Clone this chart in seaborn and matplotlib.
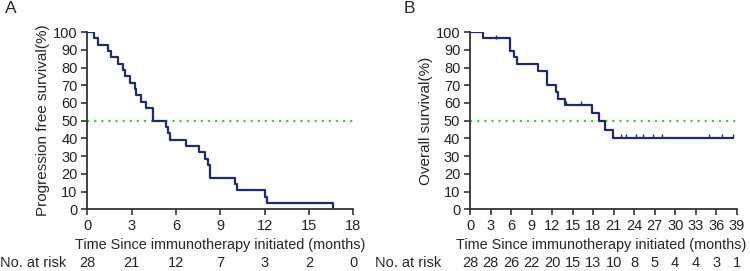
# Kaplan-Meier curves for PFS (A) and OS (B) with number-at-risk rows
import matplotlib
matplotlib.use("Agg")
import matplotlib.pyplot as plt
import matplotlib.transforms as mtransforms
import seaborn as sns
import pandas as pd

## Data
# Panel A: progression free survival
pfs_time = [0, 0.45, 0.75, 1.4, 1.6, 2.07, 2.45, 2.53, 2.87, 3.2, 3.27, 3.65, 4.0, 4.45,
            5.35, 5.45, 5.6, 6.7, 7.53, 7.95, 8.15, 8.28, 10.0, 10.13, 12.0, 12.15, 16.6]
pfs_surv = [100, 96.4, 92.9, 89.3, 85.7, 82.1, 78.6, 75.0, 71.4, 67.9, 64.3, 60.7, 57.1, 50.0,
            46.4, 42.9, 39.3, 35.7, 32.1, 28.6, 25.0, 17.9, 14.3, 10.7, 7.1, 3.6, 0]
pfs_ticks = [0, 3, 6, 9, 12, 15, 18]
pfs_risk = [28, 21, 12, 7, 3, 2, 0]

# Panel B: overall survival
os_time = [0, 1.85, 5.9, 6.5, 6.85, 9.95, 11.3, 12.5, 12.8, 13.9, 17.9, 18.9, 19.7, 20.9, 38.5]
os_surv = [100, 96.4, 89.2, 85.7, 82.1, 78.3, 70.2, 66.2, 62.4, 58.7, 54.2, 49.9, 44.9, 40.5, 40.5]
os_cens_time = [3.8, 14.0, 16.2, 22.1, 22.8, 24.3, 25.3, 26.8, 28.1, 35.0, 36.8, 38.5]
os_cens_surv = [96.4, 58.7, 58.7, 40.5, 40.5, 40.5, 40.5, 40.5, 40.5, 40.5, 40.5, 40.5]
os_ticks = list(range(0, 40, 3))
os_risk = [28, 28, 26, 22, 20, 15, 13, 10, 8, 5, 4, 4, 3, 1]

y_ticks = list(range(0, 101, 10))

LINE = "#1f2c6b"
GREEN = "#3ccf3c"
AXC = "#333333"

sns.set_style("ticks")
plt.rcParams["font.family"] = ["Liberation Sans", "DejaVu Sans"]


def km_panel(ax, t, s, ticks, risk, ylab, cens_t=None, cens_s=None, xlab_x=0.5):
    df = pd.DataFrame({"time": t, "surv": s})
    sns.lineplot(data=df, x="time", y="surv", drawstyle="steps-post", color=LINE,
                 linewidth=1.6, ax=ax)
    if cens_t is not None:
        # small censor ticks sitting on top of the curve
        sns.scatterplot(x=cens_t, y=[v + 1.0 for v in cens_s], marker="|", s=12,
                        color=LINE, linewidth=1.0, ax=ax)
    ax.axhline(50, color=GREEN, linestyle=(0, (1, 2.2)), linewidth=1.6, zorder=0)
    ax.set_xlim(ticks[0], ticks[-1])
    ax.set_ylim(0, 100)
    ax.set_xticks(ticks)
    ax.set_yticks(y_ticks)
    ax.tick_params(labelsize=10.5, length=4, width=1.2, color=AXC, labelcolor="#222222", pad=3)
    for sp in ["left", "bottom"]:
        ax.spines[sp].set_linewidth(1.3)
        ax.spines[sp].set_color(AXC)
    sns.despine(ax=ax)
    ax.set_xlabel("Time Since immunotherapy initiated (months)", fontsize=10.4)
    ax.xaxis.set_label_coords(xlab_x, -0.163)
    ax.set_ylabel(ylab, fontsize=11, labelpad=2)
    # number at risk row
    tr = mtransforms.blended_transform_factory(ax.transData, ax.transAxes)
    for x, n in zip(ticks, risk):
        ax.text(x, -0.305, str(n), transform=tr, ha="center", va="center", fontsize=10.5)
    return ax


fig = plt.figure(figsize=(7.5, 2.71), dpi=100)
axA = fig.add_axes([0.1163, 0.2277, 0.3550, 0.654])
axB = fig.add_axes([0.6267, 0.2277, 0.3556, 0.654])

km_panel(axA, pfs_time, pfs_surv, pfs_ticks, pfs_risk, "Progression free survival(%)")
km_panel(axB, os_time, os_surv, os_ticks, os_risk, "Overall survival(%)",
         os_cens_time, os_cens_surv, xlab_x=0.49)

fig.text(0.006, 0.967, "A", fontsize=12.5, va="center", ha="left")
fig.text(0.538, 0.967, "B", fontsize=12.5, va="center", ha="left")
fig.text(0.0, 0.03, "No. at risk", fontsize=10.5, va="center", ha="left")
fig.text(0.5, 0.03, "No. at risk", fontsize=10.5, va="center", ha="left")

fig.savefig("out.png", dpi=100)
